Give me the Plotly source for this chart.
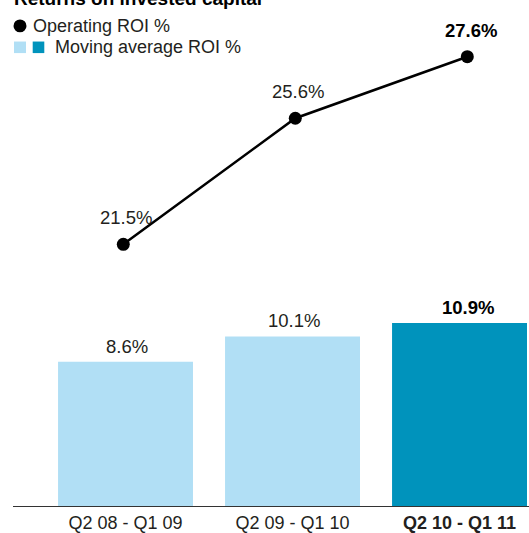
import plotly.graph_objects as go

# ---- data ----
periods = ["Q2 08 - Q1 09", "Q2 09 - Q1 10", "Q2 10 - Q1 11"]
moving_avg_roi = [8.6, 10.1, 10.9]
operating_roi = [21.5, 25.6, 27.6]
highlight = [False, False, True]
title_text = "Returns on invested capital"
legend_line = "Operating ROI %"
legend_bar = "Moving average ROI %"

# ---- layout helpers ----
W, H = 529, 533
ML, MR, MT, MB = 13, 0, 0, 25
PW, PH = W - ML - MR, H - MT - MB


def px(x):
    return (x - ML) / PW


def py(y):
    return (H - MB - y) / PH


LIGHT = "#b1dff5"
DARK = "#0093bc"
TEXT = "#231f20"
FONT = "Liberation Sans"


def bold(s, h):
    return f"<b>{s}</b>" if h else s


fig = go.Figure()
fig.add_bar(
    x=periods, y=moving_avg_roi,
    marker=dict(color=[DARK if h else LIGHT for h in highlight], line_width=0),
    width=0.808, xaxis="x", yaxis="y", hoverinfo="skip", showlegend=False,
)
fig.add_scatter(
    x=periods, y=operating_roi, mode="lines+markers",
    line=dict(color="black", width=2.5), marker=dict(color="black", size=13),
    xaxis="x2", yaxis="y2", hoverinfo="skip", showlegend=False,
)

annotations = []
for p, v, h in zip(periods, moving_avg_roi, highlight):
    annotations.append(dict(
        x=p, y=v, xref="x", yref="y", text=bold(f"{v}%", h), showarrow=False,
        yanchor="bottom", yshift=3, xshift=8 if h else 1,
        font=dict(family=FONT, size=18.5, color="black" if h else TEXT),
    ))
for p, v, h in zip(periods, operating_roi, highlight):
    annotations.append(dict(
        x=p, y=v, xref="x2", yref="y2", text=bold(f"{v}%", h), showarrow=False,
        yanchor="bottom", yshift=14, xshift=4 if h else 3,
        font=dict(family=FONT, size=18.5, color="black" if h else TEXT),
    ))
# title (cut off at top as in the reference)
annotations.append(dict(
    x=px(12), y=py(0), xref="paper", yref="paper", xanchor="left", yanchor="bottom",
    yshift=-11, text=f"<b>{title_text}</b>", showarrow=False,
    font=dict(family=FONT, size=19, color="black"),
))
# legend texts
annotations.append(dict(
    x=px(31), y=py(26), xref="paper", yref="paper", xanchor="left", yanchor="middle",
    text=legend_line, showarrow=False, font=dict(family=FONT, size=18, color=TEXT),
))
annotations.append(dict(
    x=px(53), y=py(47.5), xref="paper", yref="paper", xanchor="left", yanchor="middle",
    text=legend_bar, showarrow=False, font=dict(family=FONT, size=18, color=TEXT),
))

shapes = [
    dict(type="circle", xref="paper", yref="paper", x0=px(13.5), x1=px(26.5),
         y0=py(32.5), y1=py(19.5), fillcolor="black", line_width=0),
    dict(type="rect", xref="paper", yref="paper", x0=px(14), x1=px(26),
         y0=py(53.3), y1=py(41.7), fillcolor=LIGHT, line_width=0),
    dict(type="rect", xref="paper", yref="paper", x0=px(32.7), x1=px(44.3),
         y0=py(53.3), y1=py(41.7), fillcolor=DARK, line_width=0),
]

fig.update_layout(
    width=W, height=H, margin=dict(l=ML, r=MR, t=MT, b=MB, pad=0),
    paper_bgcolor="white", plot_bgcolor="white",
    font=dict(family=FONT, size=18, color=TEXT),
    showlegend=False, annotations=annotations, shapes=shapes,
    xaxis=dict(
        type="category", range=[-0.6737, 2.416],
        tickvals=periods, ticktext=[bold(p, h) for p, h in zip(periods, highlight)],
        showline=True, linecolor="#333333", linewidth=1.3, showgrid=False,
        zeroline=False, ticks="", tickfont=dict(family=FONT, size=18, color=TEXT),
        fixedrange=True,
    ),
    yaxis=dict(range=[0, 30.15], visible=False, fixedrange=True),
    xaxis2=dict(type="category", overlaying="x", range=[-0.6413, 2.3587],
                visible=False, fixedrange=True),
    yaxis2=dict(overlaying="y", range=[12.994, 29.444], visible=False, fixedrange=True),
)

fig.write_html(
    "out.html",
    config={"displayModeBar": False},
    post_script="document.body.style.margin='0';document.body.style.overflow='hidden';",
)
